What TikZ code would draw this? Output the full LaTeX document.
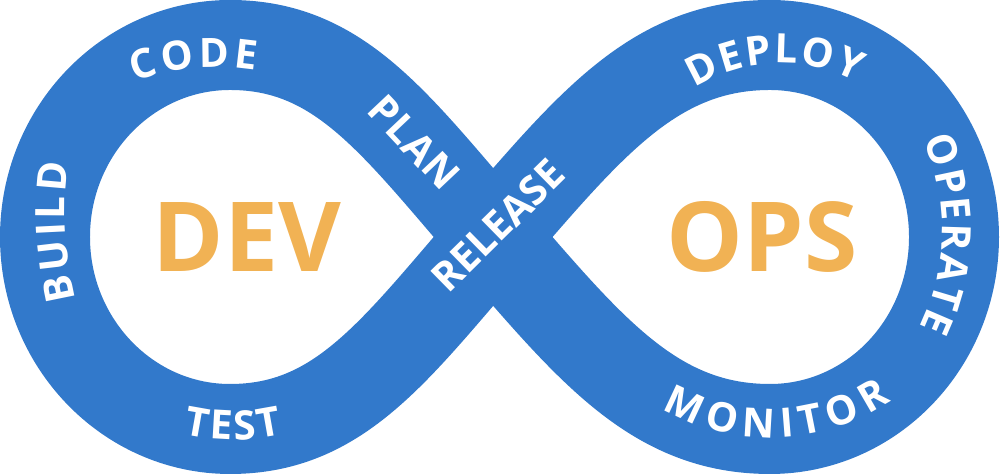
\documentclass[tikz,border=0pt]{standalone}
\usepackage{fontspec}
\setmainfont{Open Sans}
\usepackage{xcolor}
\usepackage{tikz}
\usetikzlibrary{decorations.text}
\definecolor{loopblue}{HTML}{3279CB}
\definecolor{devorange}{HTML}{F1B254}
\newcommand{\lblfont}{\fontsize{23}{27}\selectfont\bfseries}
\tikzset{
  band/.style={draw=loopblue, line width=1.8cm, line join=round},
  hub/.style={font=\fontsize{55}{60}\selectfont\bfseries, text=devorange, inner sep=0pt},
  lbl/.style={decorate, decoration={text along path, text={|\lblfont|#1}, text color=white, text align=center}},
}

\begin{document}
\begin{tikzpicture}[x=0.02cm, y=0.02cm]
\useasboundingbox (0,0) rectangle (1000,475);
% the loop
\draw[band] (493,238) .. controls (395,351) and (340,430) .. (230,430)
  .. controls (128,430) and (45,344) .. (45,238)
  .. controls (45,132) and (128,46) .. (230,46)
  .. controls (340,46) and (395,125) .. (493,238)
  .. controls (591,351) and (655,430) .. (770,430)
  .. controls (872,430) and (954,344) .. (954,238)
  .. controls (954,132) and (872,46) .. (770,46)
  .. controls (655,46) and (591,125) .. (493,238) -- cycle;
% centre words
\node[hub] (dev) at (247,238) {DEV};
\node[hub] (ops) at (762,238) {OPS};
% stage labels (letters spread with small kerns)
\path[lbl={B{\kern2pt}U{\kern2pt}I{\kern2pt}L{\kern2pt}D}] ([shift={(445,264.5)}]203.2:380) arc (203.2:163.2:380);
\path[lbl={C{\kern2.3pt}O{\kern2.3pt}D{\kern2.3pt}E}] ([shift={(217,172)}]123.5:236) arc (123.5:67.5:236);
\path[lbl={P{\kern0.5pt}L{\kern0.5pt}A{\kern0.5pt}N}] (348.6,380.7) -- (458.4,264.3);
\path[lbl={T{\kern1.7pt}E{\kern1.7pt}S{\kern1.7pt}T}] ([shift={(233,255)}]245:220) arc (245:295:220);
\path[lbl=RELEASE] (430,162.4) -- (587,316.6);
\path[lbl={D{\kern1.2pt}E{\kern1.2pt}P{\kern1.2pt}L{\kern1.2pt}O{\kern1.2pt}Y}] ([shift={(781,251.5)}]132.2:160.5) arc (132.2:52.2:160.5);
\path[lbl={O{\kern1.2pt}P{\kern1.2pt}E{\kern1.2pt}R{\kern1.2pt}A{\kern1.2pt}T{\kern1.2pt}E}] ([shift={(721.5,245)}]37:220.5) arc (37:-39:220.5);
\path[lbl={M{\kern4pt}O{\kern4pt}N{\kern4pt}I{\kern4pt}T{\kern4pt}O{\kern4pt}R}] ([shift={(770.7,254.6)}]231.8:217) arc (231.8:311.8:217);
\end{tikzpicture}
\end{document}
